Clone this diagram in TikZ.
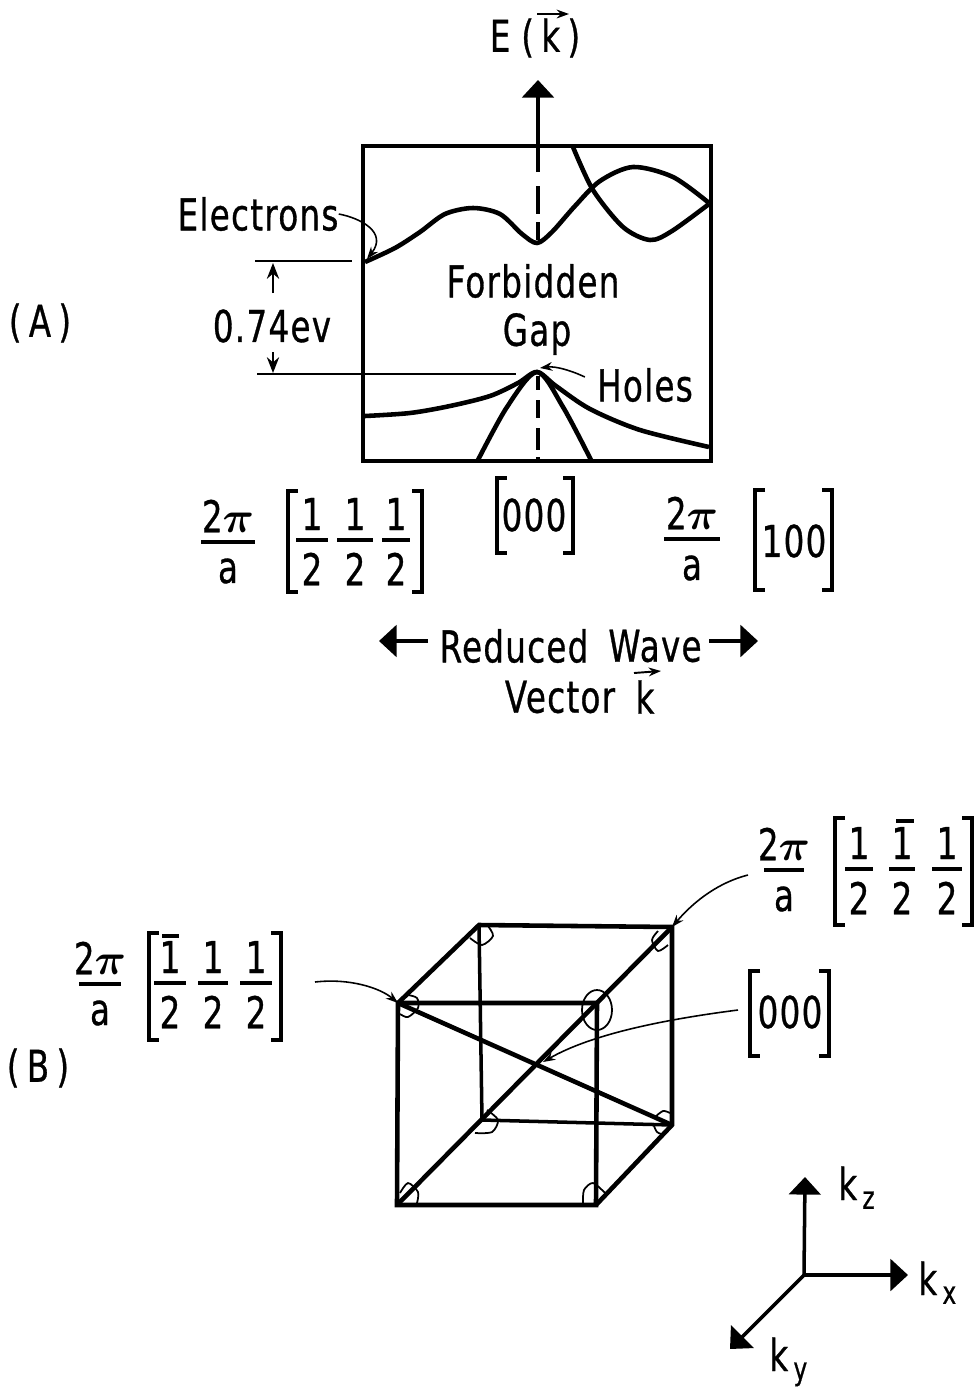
\documentclass[tikz,border=0pt]{standalone}
\usepackage{fontspec}
\setmainfont{DejaVu Sans}[FakeStretch=0.74,LetterSpace=3,FakeBold=0.7]
\usepackage{amsmath}
\usetikzlibrary{arrows.meta}
\tikzset{
    lbl/.style={inner sep=0pt, font=\fontsize{25}{29}\selectfont},
    heavy/.style={line width=2.6pt},
    medium/.style={line width=2pt},
    leader/.style={line width=0.9pt, -{Stealth[length=7pt,width=5pt]}},
    corner/.style={line width=1pt},
    dimline/.style={line width=1pt},
    bigarrow/.style={line width=2pt, -{Triangle[length=10pt,width=18pt]}},
    brk/.style={line width=2pt},
    fbar/.style={line width=1.9pt}
}
% fraction: name, x, y of bar, half width, numerator, denominator
\newcommand{\frc}[6]{
    \node[lbl] (#1n) at (#2,#3-26) {#5};
    \node[lbl] (#1d) at (#2,#3+29) {#6};
    \coordinate (#1l) at (#2-#4,#3);
    \coordinate (#1r) at (#2+#4,#3);
    \draw[fbar] (#1l) -- (#1r);
}
% brackets: x left, x right, y top, y bottom
\newcommand{\brackets}[4]{
    \draw[brk] (#1+10,#3) -- (#1,#3) -- (#1,#4) -- (#1+10,#4);
    \draw[brk] (#2-10,#3) -- (#2,#3) -- (#2,#4) -- (#2-10,#4);
}
\begin{document}
\begin{tikzpicture}[x=0.02cm, y=-0.02cm]
    \useasboundingbox (0,0) rectangle (977,1387);

    % band diagram
    \coordinate (boxtl) at (363,146);
    \coordinate (boxbr) at (711,461);
    \draw[heavy] (boxtl) rectangle (boxbr);
    \coordinate (etail) at (538,172);
    \coordinate (etip) at (538,80);
    \draw[bigarrow] (etail) -- (etip);
    \foreach \ya/\yb in {186/214, 222/240, 376/390, 400/418, 428/450, 457/461}
        \draw[medium] (538,\ya) -- (538,\yb);

    \draw[heavy] plot[smooth] coordinates {(365,262) (395,248) (420,232) (445,214) (473,208) (500,214) (522,234) (537,243) (552,232) (575,206) (600,181) (633,167) (673,177) (709,203)};
    \draw[heavy] plot[smooth] coordinates {(573,147) (593,190) (623,227) (650,240) (672,231) (709,204)};
    \draw[heavy] plot[smooth] coordinates {(365,416) (410,413) (450,406) (490,396) (518,383) (537,372) (556,386) (590,409) (640,430) (709,447)};
    \draw[heavy] plot[smooth] coordinates {(478,460) (507,407) (537,372) (563,407) (591,460)};

    \node[lbl] (ek) at (535,38) {E\hspace{.25em}(\,k\,)};
    \coordinate (eka) at (537,14);
    \coordinate (ekb) at (569,14);
    \draw[line width=1.1pt, -{Stealth[length=7pt,width=5pt]}] (eka) -- (ekb);

    \node[lbl] (electrons) at (258,214) {Electrons};
    \node[lbl] (gapa) at (533,281) {Forbidden};
    \node[lbl] (gapb) at (537,334) {Gap};
    \node[lbl] (holes) at (645,385) {Holes};
    \node[lbl] (ev) at (272,326) {0.74ev};
    \node[lbl] (parta) at (40,323) {(\,A\,)};

    \draw[leader] (electrons.east) .. controls (360,218) and (388,232) .. (367,259);
    \draw[leader] (holes.west) ++(-12,-8) .. controls (570,370) and (555,366) .. (540,368);

    \coordinate (gaptopa) at (255,261);
    \coordinate (gaptopb) at (352,261);
    \coordinate (gapbota) at (257,374);
    \coordinate (gapbotb) at (516,374);
    \draw[dimline] (gaptopa) -- (gaptopb);
    \draw[dimline] (gapbota) -- (gapbotb);
    \draw[line width=1pt, -{Stealth[length=9pt,width=7pt]}] (273,293) -- (273,263);
    \draw[line width=1pt, -{Stealth[length=9pt,width=7pt]}] (273,352) -- (273,373);

    % labels under the band diagram
    \frc{pa}{228}{542}{27}{2$\boldsymbol{\pi}$}{a}
    \brackets{288}{422}{491}{592}
    \frc{ha}{312}{540}{16}{1}{2}
    \frc{hb}{355}{540}{18}{1}{2}
    \frc{hc}{396}{540}{14}{1}{2}
    \brackets{497}{573}{478}{553}
    \node[lbl] (zero) at (534,515) {000};
    \frc{pb}{692}{539}{28}{2$\boldsymbol{\pi}$}{a}
    \brackets{755}{832}{490}{590}
    \node[lbl] (hundred) at (794,541) {100};

    \node[lbl] (reduced) at (514,646) {Reduced};
    \node[lbl] (wave) at (655,646) {Wave};
    \node[lbl] (vector) at (560,697) {Vector};
    \node[lbl] (veck) at (645,697) {k};
    \coordinate (wl) at (428,641);
    \coordinate (wltip) at (379,641);
    \coordinate (wr) at (709,641);
    \coordinate (wrtip) at (758,641);
    \draw[bigarrow] (wl) -- (wltip);
    \draw[bigarrow] (wr) -- (wrtip);
    \draw[line width=1.1pt, -{Stealth[length=7pt,width=5pt]}] (634,673) -- (661,671);

    % cube
    \coordinate (fa) at (398,1003);
    \coordinate (fb) at (597,1003);
    \coordinate (fc) at (596,1205);
    \coordinate (fd) at (397,1205);
    \coordinate (ba) at (479,925);
    \coordinate (bb) at (672,927);
    \coordinate (bc) at (672,1125);
    \coordinate (bd) at (482,1120);
    \draw[heavy] (fa) -- (fb) -- (fc) -- (fd) -- cycle;
    \draw[heavy] (fa) -- (ba) -- (bb) -- (bc) -- (fc);
    \draw[medium] (ba) -- (bd) -- (bc);
    \draw[heavy] (fd) -- (bb);
    \draw[heavy] (fa) -- (bc);

    \foreach \pts in {
        {(470,938) (482,945) (493,936) (488,926)},
        {(658,931) (652,940) (658,951) (668,945)},
        {(408,995) (417,998) (418,1008) (408,1017) (400,1014)},
        {(487,1110) (498,1120) (492,1132) (475,1133)},
        {(655,1117) (663,1111) (670,1113)},
        {(653,1123) (657,1132) (665,1135)},
        {(400,1193) (408,1183) (418,1192) (417,1203)},
        {(583,1203) (584,1190) (593,1183) (605,1193)}}
        \draw[corner] plot[smooth] coordinates \pts;
    \draw[corner] (597,1010) ellipse (15 and 20);

    % labels of the cube
    \frc{pc}{100}{984}{21}{2$\boldsymbol{\pi}$}{a}
    \brackets{149}{281}{933}{1040}
    \frc{ia}{170}{983}{16}{1}{2}
    \frc{ib}{213}{983}{15}{1}{2}
    \frc{ic}{256}{983}{16}{1}{2}
    \draw[fbar] (162,936) -- (179,936);
    \node[lbl] (partb) at (38,1068) {(\,B\,)};

    \frc{pd}{784}{870}{20}{2$\boldsymbol{\pi}$}{a}
    \brackets{835}{972}{818}{925}
    \frc{ja}{859}{869}{14}{1}{2}
    \frc{jb}{902}{869}{13}{1}{2}
    \frc{jc}{947}{869}{15}{1}{2}
    \draw[fbar] (896,821) -- (914,821);
    \brackets{750}{829}{971}{1056}
    \node[lbl] (zerob) at (790,1012) {000};

    \draw[leader] (315,982) .. controls (350,978) and (380,988) .. (fa);
    \draw[leader] (748,875) .. controls (720,882) and (695,900) .. (bb);
    \draw[leader] (738,1010) .. controls (660,1020) and (590,1035) .. (543,1062);

    % axes
    \coordinate (origin) at (804,1275);
    \coordinate (kztip) at (805,1177);
    \coordinate (kxtip) at (908,1275);
    \coordinate (kytip) at (730,1349);
    \draw[bigarrow] (origin) -- (kztip);
    \draw[bigarrow] (origin) -- (kxtip);
    \draw[bigarrow] (origin) -- (kytip);
    \node[lbl, anchor=base west] (kz) at (838,1200) {k\raisebox{-5pt}{\fontsize{18}{20}\selectfont\,z}};
    \node[lbl, anchor=base west] (kx) at (918,1295) {k\raisebox{-5pt}{\fontsize{18}{20}\selectfont\,x}};
    \node[lbl, anchor=base west] (ky) at (769,1371) {k\raisebox{-5pt}{\fontsize{18}{20}\selectfont\,y}};
\end{tikzpicture}
\end{document}
